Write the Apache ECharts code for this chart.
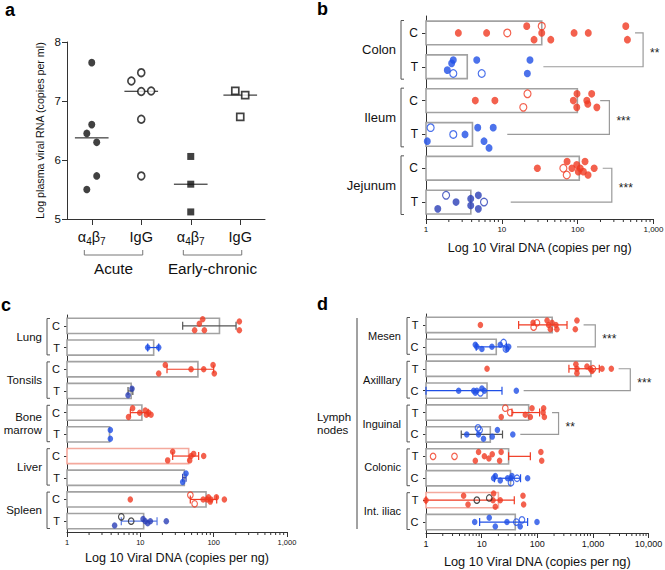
<!DOCTYPE html>
<html><head><meta charset="utf-8">
<script src="https://cdn.jsdelivr.net/npm/echarts@6/dist/echarts.min.js"></script>
<style>html,body{margin:0;padding:0;background:#fff}#c{width:665px;height:570px}</style>
</head><body><div id="c"></div>
<script>
// ---------- Panel a data ----------
const catsA = ['α4β7', 'IgG', 'α4β7', 'IgG'];
const phasesA = [['Acute', 0, 1], ['Early-chronic', 2, 3]];
// [log plasma viral RNA, horizontal jitter lane]
const acuteA47 = [[7.65,0],[6.60,0],[6.45,-1],[6.30,1],[5.73,1],[5.50,-1]];
const acuteIgG = [[7.34,-2],[7.48,0],[7.16,0],[7.17,2],[6.69,0],[5.73,0]];
const earlyA47 = [[6.06,0],[5.59,0],[5.12,0]];
const earlyIgG = [[7.17,-1],[7.10,1],[6.73,0]];

// ---------- Panel b data ----------
const rowsB = ['C','T','C','T','C','T'];
const tissuesB = [['Colon',0,1],['Ileum',2,3],['Jejunum',4,5]];
const meansB = [33.6, 3.5, 99, 4.1, 105, 3.9];
// [row, copies per ng, vertical jitter lane, kind f=filled o=open]
const dotsB = [
 [0,2.67,0,'f'],[0,6.3,0,'f'],[0,21.3,-2,'f'],[0,26.6,2,'f'],[0,33.6,0,'f'],[0,44.2,2,'f'],[0,89.7,0,'f'],[0,138,0,'f'],[0,431,-2,'f'],[0,453,2,'f'],[0,11.8,0,'o'],[0,33.6,-2,'o'],
 [1,2.29,-2,'f'],[1,2.18,-1,'f'],[1,1.91,1,'f'],[1,4.67,-2,'f'],[1,23.5,-2,'f'],[1,21.7,2,'f'],[1,2.29,2,'o'],[1,5.43,2,'o'],
 [2,4.47,0,'f'],[2,8.1,0,'f'],[2,98,-2,'f'],[2,87.7,0,'f'],[2,97.3,2,'f'],[2,153,-2,'f'],[2,132,0,'f'],[2,136,1,'f'],[2,179,2,'f'],[2,21.8,-2,'o'],[2,19.2,2,'o'],
 [3,1.04,2,'f'],[3,3.27,0,'f'],[3,4.81,-2,'f'],[3,7.7,-2,'f'],[3,5.82,2,'f'],[3,6.78,4,'f'],[3,1.15,-2,'o'],[3,2.29,0,'o'],
 [4,29.4,0,'f'],[4,72.5,-2,'f'],[4,97.3,-1,'f'],[4,108,0,'f'],[4,125,-2,'f'],[4,102,1,'f'],[4,119,1,'f'],[4,165,0,'f'],[4,84,0,'f'],[4,137,2,'f'],[4,64.8,0,'o'],[4,71.8,2,'o'],
 [5,1.43,2,'f'],[5,2.49,0,'f'],[5,3.89,-1,'f'],[5,3.89,1,'f'],[5,4.9,-2,'f'],[5,4.9,2,'f'],[5,1.84,-2,'o'],[5,5.82,0,'o']
];
// [upper row, start, lower row, start, bracket x, label]
const sigB = [[0,571,1,35.3,729,'**'],[2,198,3,11.8,262,'***'],[4,214,5,13.1,282,'***']];

// ---------- Panel c data ----------
const rowsC = ['C','T','C','T','C','T','C','T','C','T'];
const tissuesC = [['Lung',0,1],['Tonsils',2,3],['Bone\nmarrow',4,5],['Liver',6,7],['Spleen',8,9]];
const meansC = [120, 15.2, 61, 7.5, 10.5, 3.8, 45.6, 39.8, 78.7, 11.1];
const dotsC = [
 [0,70.8,-3,'f'],[0,63.8,-1,'f'],[0,55,2,'f'],[0,74.7,2,'f'],[0,224,-2,'f'],[0,224,2,'f'],
 [1,12.6,0,'f'],[1,17.8,0,'f'],
 [2,21.9,-2,'f'],[2,17.8,2,'f'],[2,49.2,0,'f'],[2,73.1,0,'f'],[2,98.1,-2,'f'],[2,102,2,'f'],
 [3,7.7,-1,'f'],[3,6.8,2,'f'],
 [4,7.85,-2,'f'],[4,6.9,2,'f'],[4,9.8,0,'f'],[4,11.7,-1,'f'],[4,12.1,1,'f'],[4,13.0,0,'f'],[4,14.0,1,'f'],
 [5,3.9,-2,'f'],[5,3.9,2,'f'],
 [6,27.6,-2,'f'],[6,23.6,2,'f'],[6,47.1,2,'f'],[6,49.2,0,'f'],[6,53.3,-1,'f'],[6,73.1,0,'f'],
 [7,42,-2,'f'],[7,37.8,2,'f'],
 [8,7.3,0,'f'],[8,71.9,0,'f'],[8,81.3,0,'f'],[8,91.7,0,'f'],[8,90,1,'f'],[8,109,-1,'f'],[8,140,0,'f'],[8,85,-1,'f'],[8,48.1,-2,'o'],[8,55,2,'o'],
 [9,4.46,2,'f'],[9,10.9,-1,'f'],[9,11.7,0,'f'],[9,12.6,1,'f'],[9,13.7,0,'f'],[9,22.6,0,'f'],[9,5.5,-2,'k'],[9,7.5,0,'k']
];
// [low, row, high]
const errC = [[37.8,0,202],[12.6,1,17.8],[23.1,2,100],[6.8,3,7.9],[7.3,4,12.8],[27.6,6,62.4],[37.8,7,42],[48,8,110],[5.5,9,16.9]];

// ---------- Panel d data ----------
const rowsD = ['T','C','T','C','T','C','T','C','T','C'];
const nodesD = [['Mesen',0,1],['Axilllary',2,3],['Inguinal',4,5],['Colonic',6,7],['Int. iliac',8,9]];
const meansD = [185, 18.3, 920, 12.5, 70, 14.3, 30.5, 33, 20, 40.2];
const dotsD = [
 [0,9.5,0,'f'],[0,84,-1,'f'],[0,150,-2,'f'],[0,184,-1,'f'],[0,216,0,'f'],[0,160,0,'f'],[0,172,2,'f'],[0,225,2,'f'],[0,516,-2,'f'],[0,482,2,'f'],[0,98.6,-1,'o'],[0,86,1,'o'],
 [1,7.7,-1,'f'],[1,8.2,0,'f'],[1,10.1,1,'f'],[1,15.3,0,'f'],[1,21.6,-1,'f'],[1,28.5,1,'f'],[1,30.6,0,'f'],[1,24.8,-2,'o'],[1,27.3,1,'o'],
 [2,12.5,0,'f'],[2,494,-2,'f'],[2,516,0,'f'],[2,516,2,'f'],[2,781,-1,'f'],[2,898,0,'f'],[2,960,1,'f'],[2,1455,0,'f'],[2,2138,0,'f'],[2,1000,0,'o'],
 [3,3.86,0,'f'],[3,7.2,0,'f'],[3,7.7,1,'f'],[3,8.2,0,'f'],[3,10.1,-1,'f'],[3,11.2,0,'f'],[3,42,0,'f'],[3,9.5,1,'o'],
 [4,22.5,2,'f'],[4,60.9,1,'f'],[4,80.3,-2,'f'],[4,75,2,'f'],[4,130,-2,'f'],[4,127,0,'f'],[4,134,2,'f'],[4,26.6,-2,'o'],[4,32.7,0,'o'],
 [5,5.4,0,'f'],[5,8.8,0,'f'],[5,10.8,2,'f'],[5,15.5,1,'f'],[5,19.2,-2,'f'],[5,36.3,0,'f'],[5,8.6,-3,'o'],[5,9.2,-2,'o'],
 [6,8.8,-2,'f'],[6,7.7,2,'f'],[6,11.2,0,'f'],[6,13.5,1,'f'],[6,15.5,-1,'f'],[6,21,2,'f'],[6,22.4,-2,'f'],[6,116,-2,'f'],[6,120,2,'f'],[6,1.34,0,'o'],[6,3.25,0,'o'],
 [7,17.6,-1,'f'],[7,16.4,0,'f'],[7,21.6,1,'f'],[7,29.3,0,'f'],[7,35,-1,'f'],[7,33.7,0,'f'],[7,67,0,'f'],[7,43.2,0,'o'],[7,33.7,2,'o'],
 [8,1.0,0,'f'],[8,4.74,-2,'f'],[8,5.69,2,'f'],[8,16.4,-3,'f'],[8,16,0,'f'],[8,17.6,3,'f'],[8,21.6,0,'f'],[8,55.3,-2,'f'],[8,56.8,2,'f'],[8,8.2,0,'k'],[8,13.7,-1,'k'],
 [9,7.5,0,'f'],[9,13.7,-2,'f'],[9,17.6,2,'f'],[9,28.5,0,'f'],[9,49.3,2,'f'],[9,98.7,0,'f'],[9,42,0,'o'],[9,53,-1,'o']
];
const errD = [[46.2,0,342],[8,1,28],[370,2,1300],[1,3,23.2],[35,4,110],[4.3,5,23.7],[30.5,6,75],[17,7,50],[1,8,38.6],[9.2,9,67]];
const sigD = [[0,679,1,43.2,1102,'***'],[2,2890,3,56.8,4690,'***'],[4,184,5,49.5,241,'**']];

// ---------- styles ----------
const FF = '"Liberation Sans", Arial, Helvetica, sans-serif';
const RED = '#f03a22', BLUE = '#1f4fe6', DBLUE = '#2a3fb6', LBLUE = '#5a7be4', INK = '#111', AX = '#333', BARC = '#a2a2a2', PINK = '#f4a99d', DGRAY = '#555', SIGC = '#9a9a9a';
const rowColB = [RED, BLUE, RED, BLUE, RED, DBLUE];
const rowColC = [RED, BLUE, RED, DBLUE, RED, BLUE, RED, BLUE, RED, DBLUE];
const rowColD = [RED, BLUE, RED, BLUE, RED, BLUE, RED, BLUE, RED, BLUE];
const errColC = [DGRAY, BLUE, RED, DGRAY, RED, RED, DBLUE, RED, LBLUE];
const errColD = [RED, BLUE, RED, BLUE, RED, DGRAY, RED, BLUE, RED, BLUE];
const barEdgeC = rowsC.map((r, i) => i === 6 ? PINK : BARC);
const barEdgeD = rowsD.map((r, i) => i === 8 ? PINK : BARC);

const median = arr => { const s = arr.map(d => d[0]).sort((a, b) => a - b); const n = s.length; return n % 2 ? s[(n - 1) / 2] : (s[n / 2 - 1] + s[n / 2]) / 2; };
const fmtNum = v => Math.round(v).toLocaleString('en-US');
const txt = (text, x, y, size, align, valign, extra) => Object.assign({ type: 'text', style: Object.assign({ text, x, y, font: size + 'px ' + FF, fill: INK, textAlign: align, align: align, textVerticalAlign: valign, verticalAlign: valign }, extra || {}) });

// ---------- axes ----------
const xAxes = [], yAxes = [], series = [];
const grids = [
  { left: 67, top: 42, width: 198, height: 177 },
  { left: 426, top: 16, width: 227.5, height: 203 },
  { left: 67, top: 315, width: 220, height: 217 },
  { left: 426, top: 314, width: 222.6, height: 219 }
].map(g => Object.assign({ outerBoundsMode: 'none', containLabel: false }, g));

// panel a
xAxes.push({ gridIndex: 0, type: 'category', data: catsA, boundaryGap: true,
  axisLine: { show: true, onZero: false, lineStyle: { color: AX } },
  axisTick: { show: true, alignWithLabel: true, length: 6, lineStyle: { color: AX } },
  axisLabel: { interval: 0, margin: 9, color: INK, fontSize: 14.5, fontFamily: FF, lineHeight: 18,
    formatter: v => v.replace(/(\d)/g, '{s|$1}'),
    rich: { s: { fontSize: 10, fontFamily: FF, verticalAlign: 'bottom', lineHeight: 18, color: INK } } } });
xAxes.push({ gridIndex: 0, type: 'value', min: -0.5, max: 3.5, show: false, position: 'top', axisLine: { onZero: false } });
yAxes.push({ gridIndex: 0, type: 'value', min: 5, max: 8, interval: 1,
  axisLine: { show: true, onZero: false, lineStyle: { color: AX } }, axisTick: { show: true, length: 5, lineStyle: { color: AX } },
  splitLine: { show: false }, axisLabel: { color: INK, fontSize: 11.5, margin: 6 },
  name: 'Log plasma viral RNA (copies per ml)', nameLocation: 'middle', nameGap: 22, nameRotate: 90,
  nameTextStyle: { fontSize: 10.7, color: INK, fontFamily: FF } });

function logX(grid, max, fs, gap, nfs) {
  return { gridIndex: grid, type: 'log', logBase: 10, min: 1, max: max,
    axisLine: { show: true, onZero: false, lineStyle: { color: AX } }, axisTick: { show: true, length: 5, lineStyle: { color: AX } },
    splitLine: { show: false }, minorTick: { show: false },
    axisLabel: { fontSize: fs, color: INK, margin: 6, formatter: fmtNum },
    name: 'Log 10 Viral DNA (copies per ng)', nameLocation: 'middle', nameGap: gap,
    nameTextStyle: { fontSize: nfs, color: INK, fontFamily: FF } };
}
function catY(grid, rows, fs, margin, tl) {
  return { gridIndex: grid, type: 'category', data: rows, inverse: true, boundaryGap: true,
    axisLine: { show: true, onZero: false, lineStyle: { color: AX } }, axisTick: { show: true, alignWithLabel: true, length: tl, lineStyle: { color: AX } },
    axisLabel: { interval: 0, fontSize: fs, color: INK, margin: margin } };
}
function valY(grid, n) { return { gridIndex: grid, type: 'value', min: -0.5, max: n - 0.5, inverse: true, show: false, position: 'right', axisLine: { onZero: false } }; }

// panel b: xAxis 2, yAxis 1(cat) 2(val)
xAxes.push(logX(1, 1000, 8, 22, 12.6)); yAxes.push(catY(1, rowsB, 12, 8, 4)); yAxes.push(valY(1, rowsB.length));
// panel c: xAxis 3, yAxis 3,4
xAxes.push(logX(2, 1000, 7.5, 19, 12.6)); yAxes.push(catY(2, rowsC, 11, 7, 3)); yAxes.push(valY(2, rowsC.length));
// panel d: xAxis 4, yAxis 5,6
xAxes.push(logX(3, 10000, 9, 22, 12.8)); yAxes.push(catY(3, rowsD, 11, 7.5, 3)); yAxes.push(valY(3, rowsD.length));

// ---------- panel a series ----------
const aGroups = [
  { d: acuteA47, c: 0, sym: 'circle', open: false },
  { d: acuteIgG, c: 1, sym: 'circle', open: true },
  { d: earlyA47, c: 2, sym: 'rect', open: false },
  { d: earlyIgG, c: 3, sym: 'rect', open: true }
];
aGroups.forEach(g => {
  series.push({ type: 'scatter', xAxisIndex: 1, yAxisIndex: 0, symbol: g.sym, symbolSize: g.sym === 'rect' ? 7 : [7, 7.6], z: 5,
    itemStyle: g.open ? { color: '#fff', borderColor: INK, borderWidth: 1.7 } : { color: INK },
    data: g.d.map(p => [g.c + p[1] * 0.1, p[0]]) });
});
series.push({ type: 'custom', xAxisIndex: 1, yAxisIndex: 0, z: 4, encode: { x: 0, y: 1 },
  data: aGroups.map(g => [g.c, median(g.d)]),
  renderItem: (p, api) => { const c = api.value(0), m = api.value(1); const a = api.coord([c - 0.34, m]), b = api.coord([c + 0.34, m]);
    return { type: 'line', shape: { x1: a[0], y1: a[1], x2: b[0], y2: b[1] }, style: { stroke: INK, lineWidth: 1 } }; } });
series.push({ type: 'custom', xAxisIndex: 1, yAxisIndex: 0, z: 4, encode: { x: 0, y: 1 },
  data: phasesA.map(p => [p[1], 5, p[2]]),
  renderItem: (p, api) => {
    const c0 = api.value(0), c1 = api.value(2);
    const a = api.coord([c0 - 0.15, 5]), b = api.coord([c1 + 0.03, 5]);
    const y = a[1] + 36;
    return { type: 'group', children: [
      { type: 'polyline', shape: { points: [[a[0], y - 5], [a[0], y], [b[0], y], [b[0], y - 5]] }, style: { stroke: '#777', lineWidth: 1, fill: null } },
      txt(phasesA[p.dataIndex][0], (a[0] + b[0]) / 2, y + 13, 15.3, 'center', 'middle')
    ] };
  } });

// ---------- generic log panels ----------
function logPanel(P) {
  const n = P.rows.length;
  const base = { xAxisIndex: P.xi, yAxisIndex: P.yi };
  series.push(Object.assign({ type: 'custom', z: 1, encode: { x: 0, y: 1 }, data: P.means.map((v, i) => [v, i]),
    renderItem: (p, api) => { const v = api.value(0), r = api.value(1);
      const a = api.coord([1, r]), b = api.coord([v, r]); const rh = Math.abs(api.coord([1, r + 1])[1] - a[1]); const h = rh * 0.7;
      return { type: 'rect', shape: { x: a[0], y: a[1] - h / 2, width: b[0] - a[0], height: h }, style: { fill: '#fff', stroke: P.barEdge[p.dataIndex], lineWidth: 1.6 } }; } }, base));
  if (P.err) series.push(Object.assign({ type: 'custom', z: 2, encode: { x: 0, y: 1 }, data: P.err,
    renderItem: (p, api) => { const lo = api.value(0), r = api.value(1), hi = api.value(2);
      const a = api.coord([lo, r]), b = api.coord([hi, r]); const c = P.errCol[p.dataIndex]; const h = 4;
      const st = { stroke: c, lineWidth: 1.2 };
      return { type: 'group', children: [
        { type: 'line', shape: { x1: a[0], y1: a[1], x2: b[0], y2: b[1] }, style: st },
        { type: 'line', shape: { x1: a[0], y1: a[1] - h, x2: a[0], y2: a[1] + h }, style: st },
        { type: 'line', shape: { x1: b[0], y1: b[1] - h, x2: b[0], y2: b[1] + h }, style: st } ] }; } }, base));
  const minors = [];
  for (let d = 0; d < P.decades; d++) for (let k = 2; k < 10; k++) minors.push([k * Math.pow(10, d), n - 0.5]);
  series.push(Object.assign({ type: 'custom', z: 2, encode: { x: 0, y: 1 }, data: minors, silent: true,
    renderItem: (p, api) => { const a = api.coord([api.value(0), api.value(1)]);
      return { type: 'line', shape: { x1: a[0], y1: a[1], x2: a[0], y2: a[1] + 3 }, style: { stroke: AX, lineWidth: 1 } }; } }, base));
  series.push(Object.assign({ type: 'custom', z: 2, encode: { x: 0, y: 1 }, data: P.groups.map(g => [1, g[1], g[2]]),
    renderItem: (p, api) => { const r0 = api.value(1), r1 = api.value(2);
      const top = api.coord([1, r0 - 0.5]), bot = api.coord([1, r1 + 0.5]);
      const bx = top[0] - P.brOff, y0 = top[1] + P.inset, y1 = bot[1] - P.inset;
      return { type: 'group', children: [
        { type: 'polyline', shape: { points: [[bx + 3, y0], [bx, y0], [bx, y1], [bx + 3, y1]] }, style: { stroke: '#555', lineWidth: 1, fill: null } },
        txt(P.groups[p.dataIndex][0], top[0] - P.txtOff, (top[1] + bot[1]) / 2, P.gfs, 'right', 'middle', { lineHeight: P.gfs * 1.2 })
      ] }; } }, base));
  if (P.sig) series.push(Object.assign({ type: 'custom', z: 2, encode: { x: 0, y: 1 }, data: P.sig.map(s => [s[1], s[0], s[3], s[2], s[4]]),
    renderItem: (p, api) => { const a = api.coord([api.value(0), api.value(1)]), b = api.coord([api.value(2), api.value(3)]);
      const xe = api.coord([api.value(4), api.value(1)])[0];
      return { type: 'group', children: [
        { type: 'polyline', shape: { points: [[a[0], a[1]], [xe, a[1]], [xe, b[1]], [b[0], b[1]]] }, style: { stroke: SIGC, lineWidth: 1.2, fill: null } },
        txt(P.sig[p.dataIndex][5], xe + 7, (a[1] + b[1]) / 2 + 3, 12, 'left', 'middle', { fill: '#222' })
      ] }; } }, base));
  const filled = P.dots.filter(d => d[3] === 'f').map(d => ({ value: [d[1], d[0] + d[2] * 0.1], itemStyle: { color: P.rowCol[d[0]] } }));
  const open = P.dots.filter(d => d[3] !== 'f').map(d => ({ value: [d[1], d[0] + d[2] * 0.1], itemStyle: { color: 'rgba(255,255,255,0)', borderColor: d[3] === 'k' ? '#222' : P.rowCol[d[0]], borderWidth: 1.2 } }));
  series.push(Object.assign({ type: 'scatter', z: 5, symbol: 'circle', symbolSize: P.sym, data: filled }, base));
  series.push(Object.assign({ type: 'scatter', z: 6, symbol: 'circle', symbolSize: P.sym, data: open }, base));
}

logPanel({ xi: 2, yi: 2, rows: rowsB, means: meansB, dots: dotsB, rowCol: rowColB, barEdge: rowsB.map(() => BARC), sig: sigB,
  groups: tissuesB, decades: 3, sym: [7, 7.6], brOff: 25, txtOff: 30, inset: 4.5, gfs: 13 });
logPanel({ xi: 3, yi: 4, rows: rowsC, means: meansC, dots: dotsC, rowCol: rowColC, barEdge: barEdgeC, err: errC, errCol: errColC,
  groups: tissuesC, decades: 3, sym: [5.6, 6.4], brOff: 20, txtOff: 25, inset: 3.5, gfs: 11.5 });
logPanel({ xi: 4, yi: 6, rows: rowsD, means: meansD, dots: dotsD, rowCol: rowColD, barEdge: barEdgeD, err: errD, errCol: errColD, sig: sigD,
  groups: nodesD, decades: 4, sym: [5.6, 6.4], brOff: 19, txtOff: 25, inset: 3.5, gfs: 11 });

series.push({ type: 'custom', xAxisIndex: 4, yAxisIndex: 6, z: 2, encode: { x: 0, y: 1 }, data: [[1, 0, rowsD.length - 1]],
  renderItem: (p, api) => { const top = api.coord([1, api.value(1) - 0.5]), bot = api.coord([1, api.value(2) + 0.5]);
    const lx = top[0] - 69;
    return { type: 'group', children: [
      { type: 'line', shape: { x1: lx, y1: top[1] + 4, x2: lx, y2: bot[1] - 4 }, style: { stroke: '#444', lineWidth: 1 } },
      txt('Lymph\nnodes', top[0] - 109, (top[1] + bot[1]) / 2, 11.5, 'left', 'middle', { lineHeight: 13.5 })
    ] }; } });

const chart = echarts.init(document.getElementById('c'), null, { renderer: 'svg', width: 665, height: 570 });
chart.setOption({
  animation: false,
  backgroundColor: '#fff',
  textStyle: { fontFamily: FF },
  grid: grids, xAxis: xAxes, yAxis: yAxes, series: series,
  graphic: [
    { type: 'text', left: 5, top: 1, style: { text: 'a', font: 'bold 18px ' + FF, fill: '#000' } },
    { type: 'text', left: 317, top: 0, style: { text: 'b', font: 'bold 18px ' + FF, fill: '#000' } },
    { type: 'text', left: 1, top: 296, style: { text: 'c', font: 'bold 18px ' + FF, fill: '#000' } },
    { type: 'text', left: 317, top: 295, style: { text: 'd', font: 'bold 18px ' + FF, fill: '#000' } }
  ]
});
</script></body></html>
